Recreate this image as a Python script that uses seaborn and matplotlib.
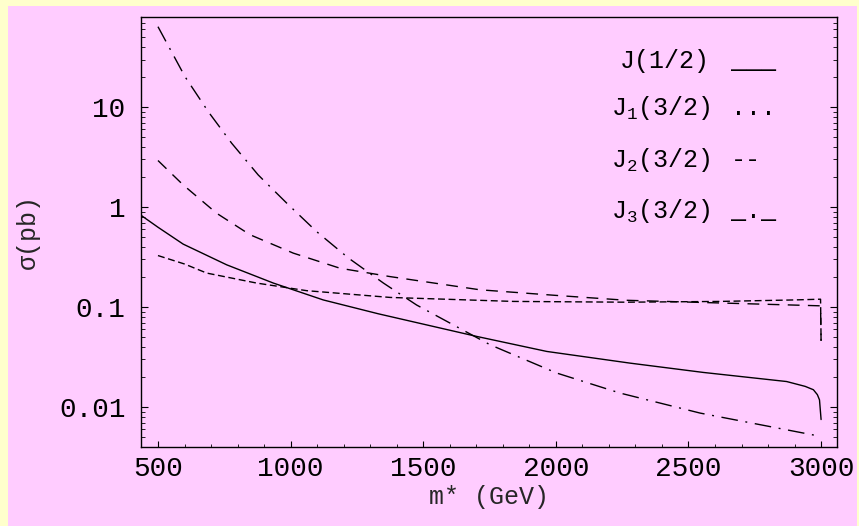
import matplotlib
matplotlib.use("Agg")
import numpy as np
import pandas as pd
import matplotlib.pyplot as plt
import seaborn as sns
from matplotlib.patches import Rectangle
from matplotlib.ticker import FixedLocator, LogLocator, NullFormatter, MultipleLocator

# ---------------- data ----------------
m_half = [436, 500, 595, 759, 935, 1123, 1331, 1703, 1966, 2280, 2556, 2870, 2940, 2971, 2986, 2994, 3000]
sigma_half = [0.83, 0.63, 0.427, 0.265, 0.174, 0.118, 0.0857, 0.0508, 0.036, 0.0275, 0.0222,
              0.018, 0.0161, 0.0149, 0.0133, 0.0118, 0.0075]

m_j1 = [500, 600, 684, 872, 1061, 1375, 1840, 2267, 2619, 2900, 2998, 3000]
sigma_j1 = [0.328, 0.27, 0.219, 0.174, 0.146, 0.125, 0.114, 0.112, 0.114, 0.118, 0.12, 0.046]

m_j2 = [500, 595, 721, 847, 1010, 1186, 1375, 1714, 2000, 2267, 2619, 2998, 3000]
sigma_j2 = [2.93, 1.67, 0.87, 0.53, 0.347, 0.245, 0.202, 0.149, 0.131, 0.117, 0.11, 0.103, 0.046]

m_j3 = [500, 602, 690, 778, 878, 985, 1098, 1218, 1350, 1475, 1752, 2003, 2242, 2544, 2996]
sigma_j3 = [64, 20.2, 9.0, 4.36, 2.1, 1.1, 0.57, 0.31, 0.174, 0.105, 0.042, 0.0219, 0.0138, 0.0087, 0.0051]

series_labels = ["J(1/2)", "J$_1$(3/2)", "J$_2$(3/2)", "J$_3$(3/2)"]
series_samples = ["___", "...", "--", "_._"]

x_ticks = [500, 1000, 1500, 2000, 2500, 3000]
x_tick_labels = ["500", "1000", "1500", "2000", "2500", "3000"]
y_ticks = [0.01, 0.1, 1, 10]
y_tick_labels = ["0.01", "0.1", "1", "10"]

# ---------------- style ----------------
YELLOW = "#FFFFCC"
PINK = "#FFCCFF"
sns.set_style("ticks")
plt.rcParams["font.family"] = ["Liberation Mono", "DejaVu Sans Mono"]
plt.rcParams["mathtext.fontset"] = "custom"
plt.rcParams["mathtext.rm"] = "Liberation Mono"
plt.rcParams["mathtext.it"] = "Liberation Mono"
plt.rcParams["mathtext.bf"] = "Liberation Mono"

fig = plt.figure(figsize=(8.59, 5.26), dpi=100, facecolor=YELLOW)
fig.patches.append(Rectangle((8 / 859, 0), (857 - 8) / 859, (526 - 6) / 526,
                             transform=fig.transFigure, facecolor=PINK, edgecolor="none", zorder=-10))
ax = fig.add_axes([141 / 859, (526 - 446.7) / 526, (837 - 141) / 859, (446.7 - 17) / 526])
ax.set_facecolor(PINK)
ax.set_zorder(1)

df = pd.concat([
    pd.DataFrame({"m": m_half, "sigma": sigma_half, "series": series_labels[0]}),
    pd.DataFrame({"m": m_j1, "sigma": sigma_j1, "series": series_labels[1]}),
    pd.DataFrame({"m": m_j2, "sigma": sigma_j2, "series": series_labels[2]}),
    pd.DataFrame({"m": m_j3, "sigma": sigma_j3, "series": series_labels[3]}),
])

styles = {
    series_labels[0]: "-",
    series_labels[1]: (0, (5, 2.6)),
    series_labels[2]: (0, (8.5, 6)),
    series_labels[3]: (0, (12, 5.5, 1.4, 5.5)),
}
for lab in series_labels:
    sub = df[df["series"] == lab]
    sns.lineplot(data=sub, x="m", y="sigma", estimator=None, sort=False, ax=ax,
                 color="black", linewidth=1.0, linestyle=styles[lab], legend=False)

ax.set_yscale("log")
ax.set_xlim(436, 3060)
ax.set_ylim(0.00401, 80)

ax.xaxis.set_major_locator(FixedLocator(x_ticks))
ax.set_xticklabels(x_tick_labels)
ax.xaxis.set_minor_locator(MultipleLocator(100))
ax.yaxis.set_major_locator(FixedLocator(y_ticks))
ax.set_yticklabels(y_tick_labels)
ax.yaxis.set_minor_locator(LogLocator(base=10, subs=np.arange(2, 10)))
ax.yaxis.set_minor_formatter(NullFormatter())

ax.tick_params(axis="x", which="both", direction="in", top=False, bottom=True,
               labelsize=20, pad=7, color="black", labelcolor="black")
ax.tick_params(axis="x", which="major", length=4.5, width=0.8)
ax.tick_params(axis="x", which="minor", length=2.5, width=0.6)
ax.tick_params(axis="y", which="both", direction="in", left=True, right=True,
               labelsize=20, pad=11, color="black", labelcolor="black")
ax.tick_params(axis="y", which="major", length=5, width=0.8)
ax.tick_params(axis="y", which="minor", length=3, width=0.6)

for sp in ax.spines.values():
    sp.set_color("black")
    sp.set_linewidth(1.0)

ax.set_xlabel("m* (GeV)", fontsize=18, labelpad=2)
ax.set_ylabel("σ(pb)", fontsize=18, labelpad=14)

# legend rows (text labels with typed line samples, as in the reference)
label_x = 2581
sample_x = 2660
row_baselines = [24.7, 8.38, 2.53, 0.78]
for lab, samp, yb in zip(series_labels, series_samples, row_baselines):
    ax.text(label_x, yb, lab, ha="right", va="baseline", fontsize=18, color="black")
    ax.text(sample_x, yb, samp, ha="left", va="baseline", fontsize=18, color="black")

fig.savefig("out.png", dpi=100, facecolor=YELLOW)
